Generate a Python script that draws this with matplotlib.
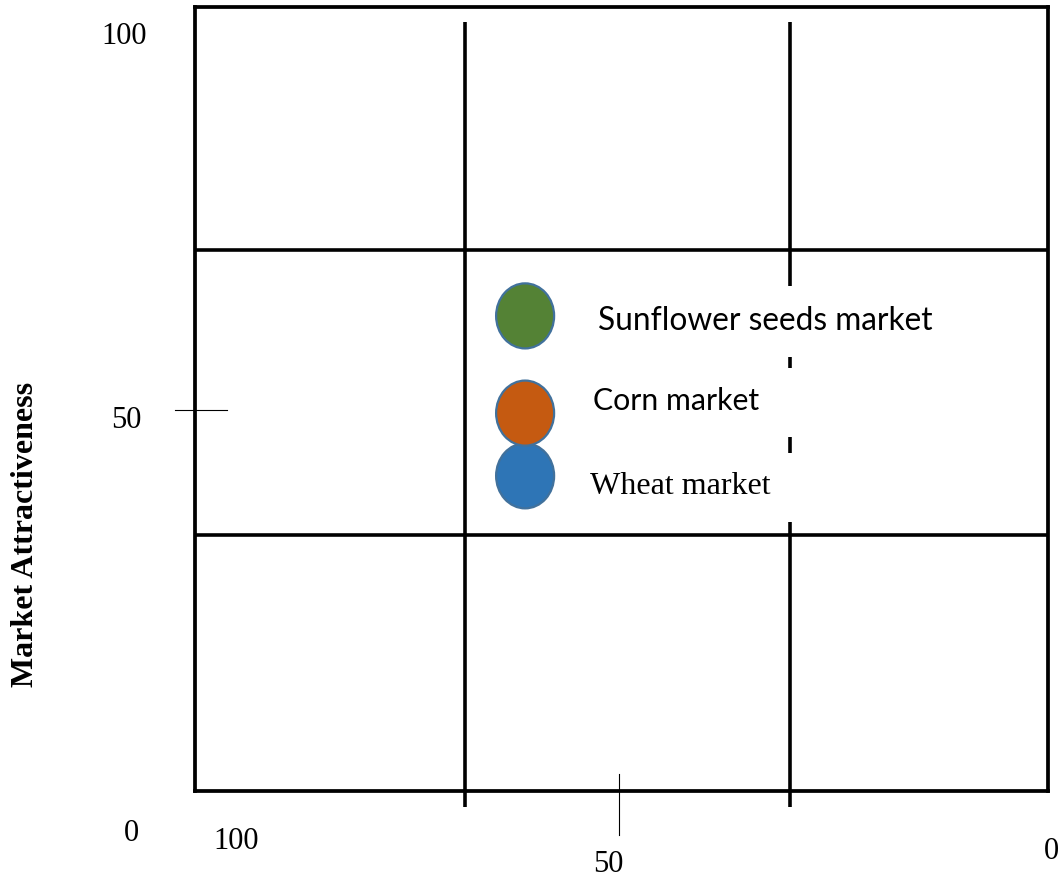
import matplotlib
matplotlib.use("Agg")
import matplotlib.pyplot as plt
from matplotlib.patches import Ellipse

# ---------------- data (chart units: 0-100 on both axes) ----------------
markets = ["Sunflower seeds market", "Corn market", "Wheat market"]
business_strength = [61.3, 61.3, 61.3]          # x (100 on the left, 0 on the right)
market_attractiveness = [60.6, 48.2, 40.2]      # y
market_colors = ["#548235", "#C55A11", "#2E75B6"]
label_fonts = ["Lato", "Lato", "Liberation Serif"]

column_bounds = [68.3, 30.2]                    # vertical dividers
row_bounds = [69.0, 32.7]                       # horizontal dividers
# visible pieces of each vertical divider (y from, y to)
divider_pieces = [
    [(98.1, -2.0)],
    [(98.1, 64.4), (55.4, 54.0), (45.2, 43.1), (34.3, -2.0)],
]

y_tick_labels = ["100", "50", "0"]
x_tick_labels = ["100", "50", "0"]
y_axis_title = "Market Attractiveness"

# ---------------- figure ----------------
W, H, DPI = 1062, 880, 100
fig = plt.figure(figsize=(W / DPI, H / DPI), dpi=DPI)
fig.patch.set_facecolor("white")

bx0, bx1, by0, by1 = 195, 1048, 7, 791        # box in pixels
ax = fig.add_axes([bx0 / W, (H - by1) / H, (bx1 - bx0) / W, (by1 - by0) / H])
ax.set_xlim(100, 0)
ax.set_ylim(0, 100)
ax.set_xticks([])
ax.set_yticks([])
for sp in ax.spines.values():
    sp.set_linewidth(2.7)
    sp.set_color("black")

# dividers
for yb in row_bounds:
    ax.plot([100, 0], [yb, yb], color="black", lw=2.6, solid_capstyle="butt", zorder=2)
for xb, pieces in zip(column_bounds, divider_pieces):
    for (ya, yb) in pieces:
        ax.plot([xb, xb], [ya, yb], color="black", lw=2.6, solid_capstyle="butt",
                clip_on=False, zorder=2)

# market bubbles (draw bottom first so upper ones overlap)
ew, eh = 6.8, 8.3
order = list(range(len(markets)))[::-1]
for i in order:
    e = Ellipse((business_strength[i], market_attractiveness[i]), ew, eh,
                facecolor=market_colors[i], edgecolor="#41719C", lw=1.6, zorder=3 + (len(markets) - i))
    ax.add_patch(e)

# bubble labels
label_x = [52.8, 53.3, 53.7]
label_y = [58.8, 48.6, 37.9]
label_sizes = [22.8, 21.8, 23.0]
for i, name in enumerate(markets):
    ax.text(label_x[i], label_y[i], name, ha="left", va="baseline",
            fontsize=label_sizes[i], family=label_fonts[i], color="black", zorder=6)

# axis tick marks (thin)
ax.plot([102.3, 96.2], [48.6, 48.6], color="black", lw=0.8, clip_on=False)
ax.plot([50.3, 50.3], [2.2, -5.6], color="black", lw=0.8, clip_on=False)

# tick labels
tf = dict(family="Liberation Serif", fontsize=22, ha="center", va="center")
y_label_pos = [(108.3, 96.2), (108.0, 47.2), (107.4, -5.4)]
for t, (xx, yy) in zip(y_tick_labels, y_label_pos):
    ax.text(xx, yy, t, clip_on=False, **tf)
x_label_pos = [(95.2, -6.5), (51.6, -9.4), (-0.35, -7.7)]
for t, (xx, yy) in zip(x_tick_labels, x_label_pos):
    ax.text(xx, yy, t, clip_on=False, **tf)

ax.text(119.9, 32.7, y_axis_title, rotation=90, family="Liberation Serif",
        fontweight="bold", fontsize=23, ha="center", va="center", clip_on=False)

fig.savefig("out.png", dpi=DPI, facecolor="white")
